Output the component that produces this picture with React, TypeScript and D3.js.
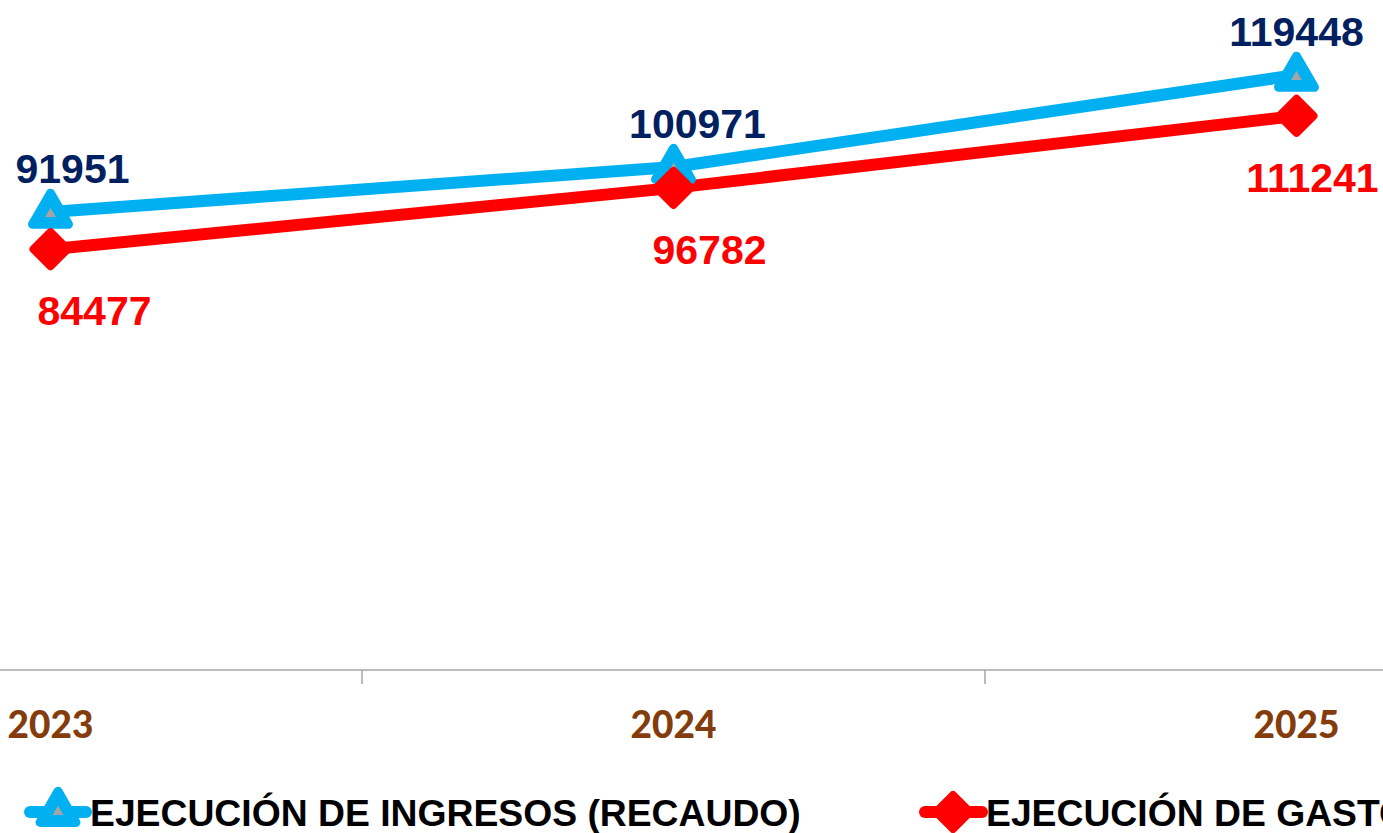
import React from "react";
import * as d3 from "d3";

const years = ["2023", "2024", "2025"];
const ingresos = [91951, 100971, 119448];
const gastos = [84477, 96782, 111241];
const seriesNames = ["EJECUCIÓN DE INGRESOS (RECAUDO)", "EJECUCIÓN DE GASTOS"];
const ingresosLabelShift = [22, 24, 0];
const gastosLabelShift = [44, 36, 16];

const W = 1383;
const H = 833;

export default function App() {
  const x = d3.scaleBand<string>().domain(years).range([-261, 1608]).padding(0);
  const y = d3.scaleLinear().domain([0, 134500]).range([670, 0]);
  const cx = (d: string) => (x(d) ?? 0) + x.bandwidth() / 2;

  const line = d3.line<number>().x((_, i) => cx(years[i])).y((v) => y(v));

  const tri = (r: number) => d3.symbol().type(d3.symbolTriangle).size(r)();
  const diamond = (h: number) => `M0,${-h}L${h},0L0,${h}L${-h},0Z`;

  const blue = "#00B0F0";
  const red = "#FF0000";
  const navy = "#002060";
  const brown = "#843C0C";
  const font = "'Liberation Sans', Arial, sans-serif";

  const ticks = years.slice(1).map((d) => x(d) ?? 0);

  const TriMarker = ({ tx, ty }: { tx: number; ty: number }) => (
    <g transform={`translate(${tx},${ty + 2})`}>
      <path d={tri(560) as string} fill={blue} stroke={blue} strokeWidth={9} strokeLinejoin="round" />
      <path d={tri(50) as string} fill="#A5A5A5" />
    </g>
  );
  const DiaMarker = ({ tx, ty }: { tx: number; ty: number }) => (
    <g transform={`translate(${tx},${ty})`}>
      <path d={diamond(17)} fill={red} stroke={red} strokeWidth={8} strokeLinejoin="round" />
    </g>
  );

  return (
    <div style={{ position: "fixed", left: 0, top: 0, width: W, height: H, background: "#fff" }}>
      <svg width={W} height={H} style={{ display: "block" }}>
        <rect width={W} height={H} fill="#fff" />
        <line x1={0} x2={W} y1={670} y2={670} stroke="#A6A6A6" strokeWidth={1.5} />
        {ticks.map((t, i) => (
          <line key={i} x1={t} x2={t} y1={670} y2={684} stroke="#A6A6A6" strokeWidth={1.5} />
        ))}
        {years.map((yr) => (
          <text key={yr} x={cx(yr)} y={738} textAnchor="middle" fill={brown} fontFamily="Lato, sans-serif" fontWeight={900} fontSize={37}>
            {yr}
          </text>
        ))}
        <path d={line(ingresos) as string} fill="none" stroke={blue} strokeWidth={12} strokeLinejoin="round" />
        <path d={line(gastos) as string} fill="none" stroke={red} strokeWidth={12} strokeLinejoin="round" />
        {ingresos.map((v, i) => (
          <TriMarker key={i} tx={cx(years[i])} ty={y(v)} />
        ))}
        {gastos.map((v, i) => (
          <DiaMarker key={i} tx={cx(years[i])} ty={y(v)} />
        ))}
        {ingresos.map((v, i) => (
          <text key={i} x={cx(years[i]) + ingresosLabelShift[i]} y={y(v) - 29} textAnchor="middle" fill={navy} fontFamily={font} fontWeight={700} fontSize={41}>
            {v}
          </text>
        ))}
        {gastos.map((v, i) => (
          <text key={i} x={cx(years[i]) + gastosLabelShift[i]} y={y(v) + 76} textAnchor="middle" fill={red} fontFamily={font} fontWeight={700} fontSize={41}>
            {v}
          </text>
        ))}
        {/* legend */}
        <g>
          <line x1={30} x2={86} y1={812} y2={812} stroke={blue} strokeWidth={12} strokeLinecap="round" />
          <TriMarker tx={58} ty={810} />
          <text x={90} y={826} fill="#000" fontFamily={font} fontWeight={700} fontSize={37.3}>
            {seriesNames[0]}
          </text>
          <line x1={925} x2={982} y1={812} y2={812} stroke={red} strokeWidth={12} strokeLinecap="round" />
          <DiaMarker tx={953} ty={812} />
          <text x={986} y={826} fill="#000" fontFamily={font} fontWeight={700} fontSize={37.3}>
            {seriesNames[1]}
          </text>
        </g>
      </svg>
    </div>
  );
}
